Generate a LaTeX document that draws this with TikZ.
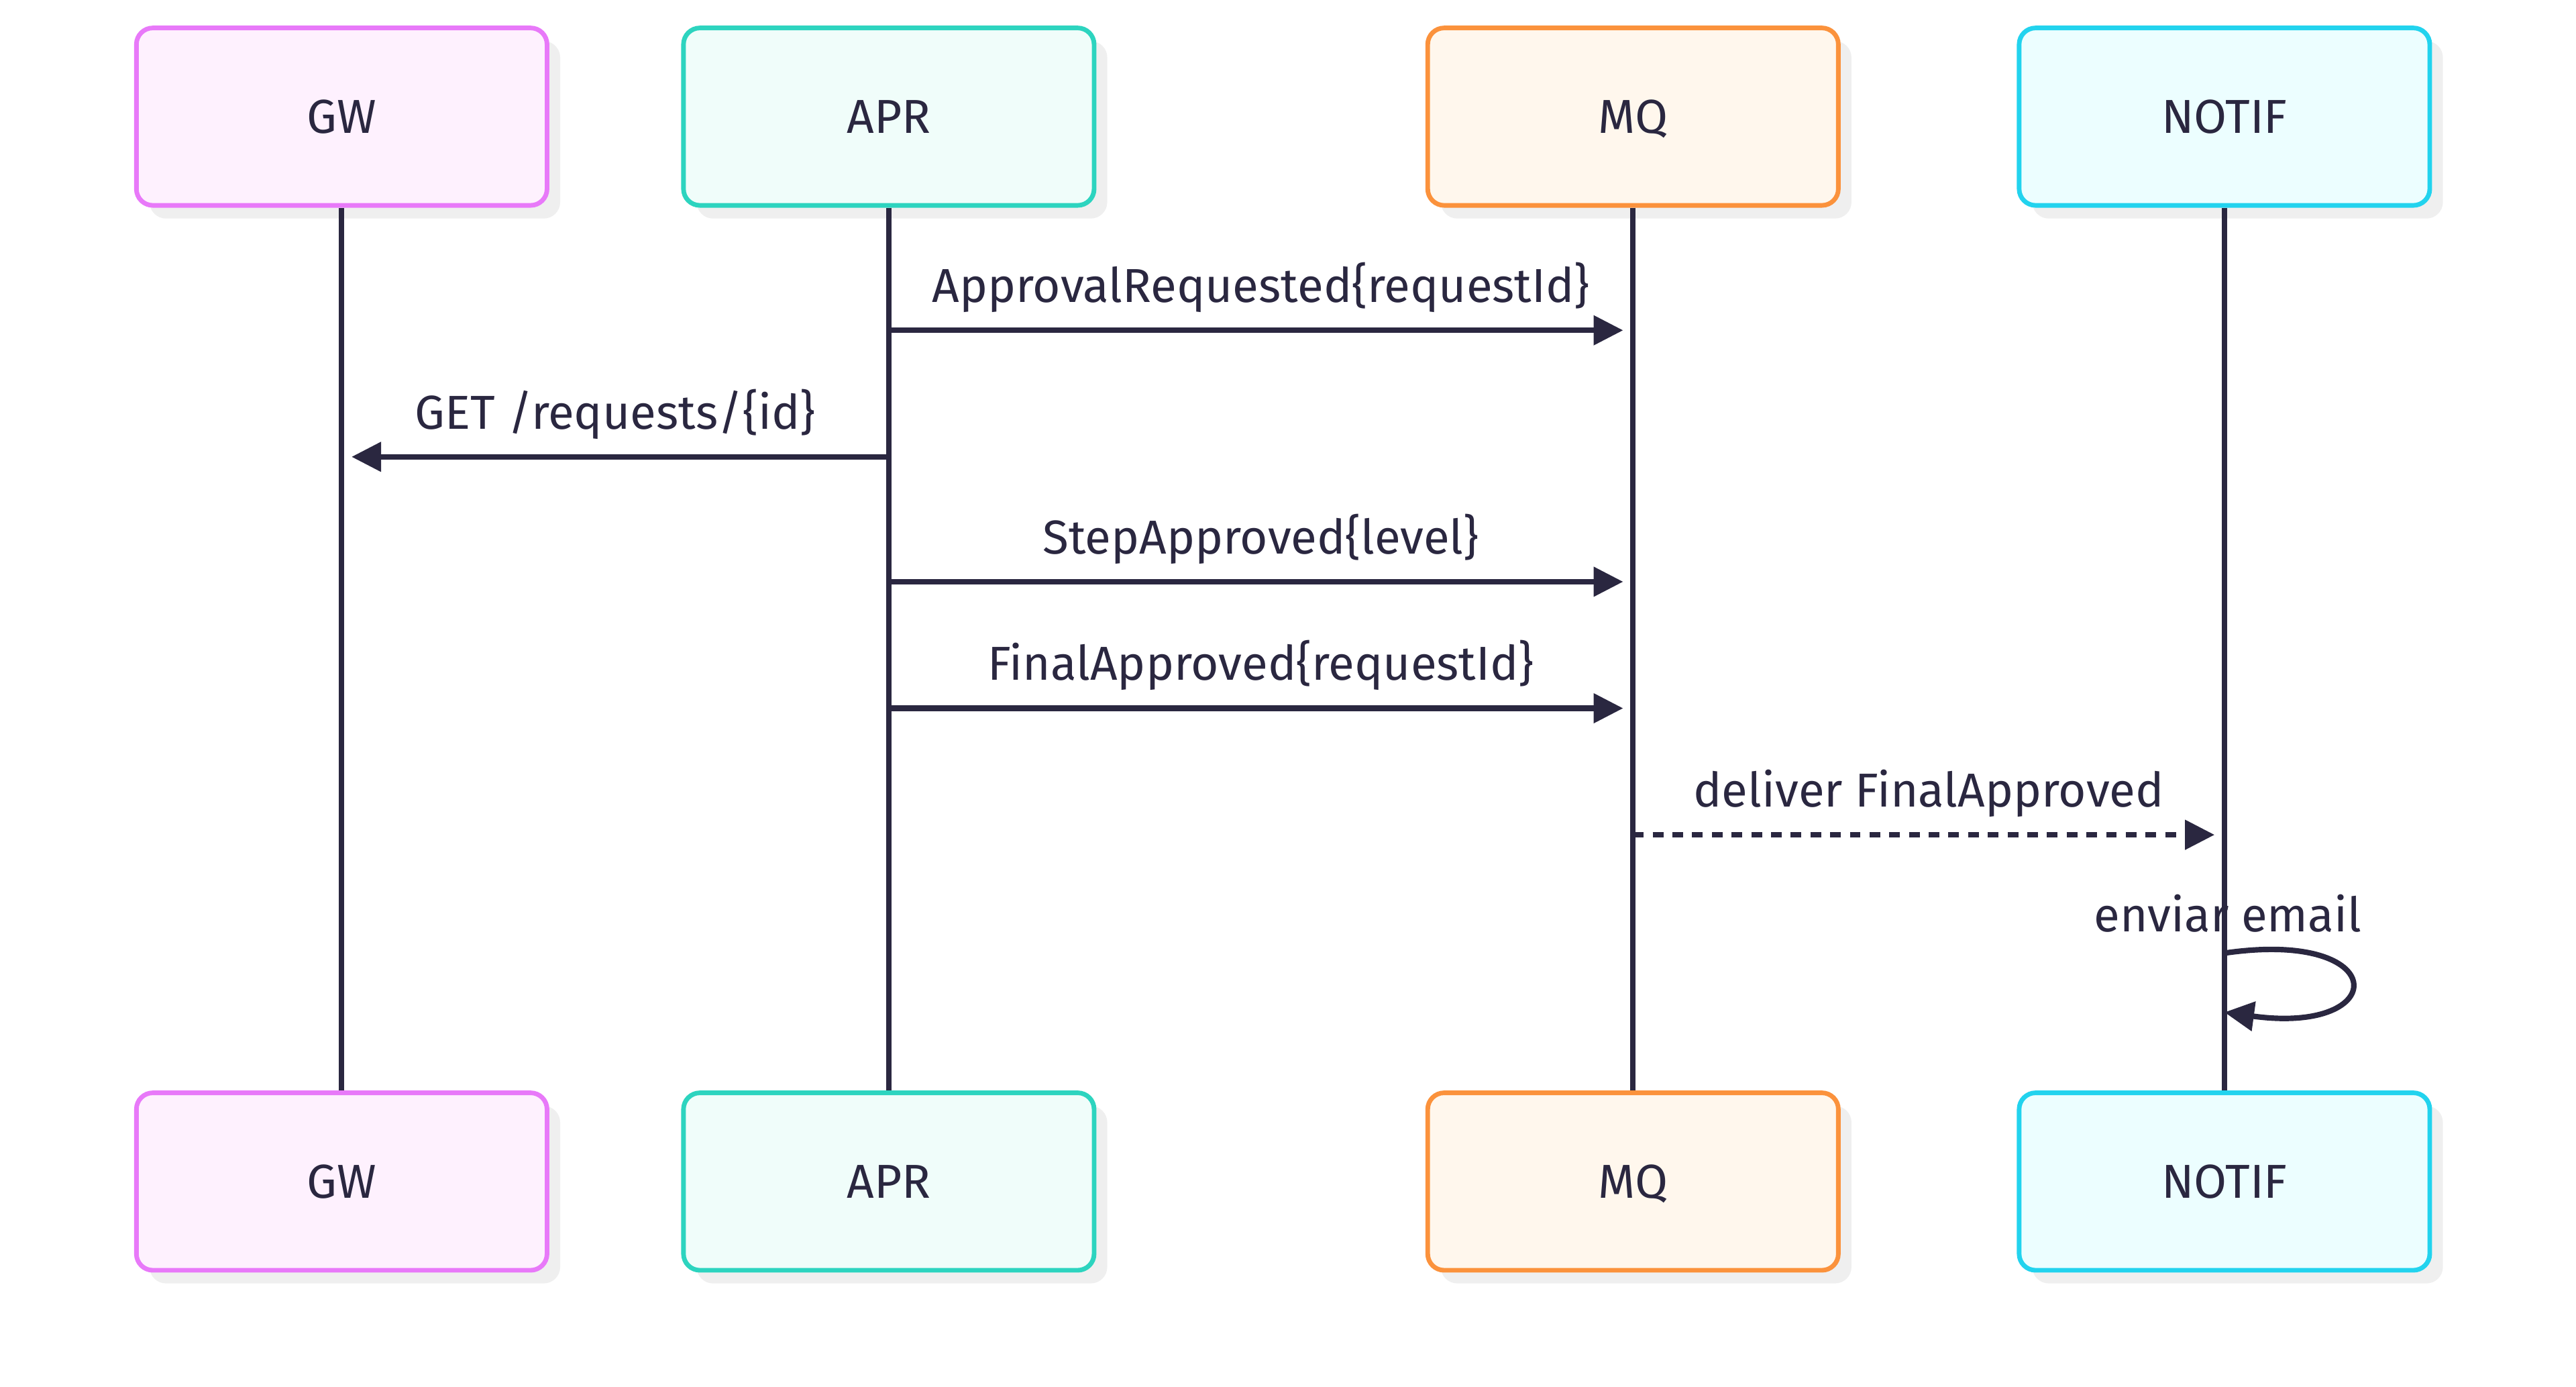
\documentclass[tikz,border=0pt]{standalone}
\usepackage{fontspec}
\setmainfont{Fira Sans}
\usetikzlibrary{arrows.meta,shadows}
\definecolor{Tinta}{HTML}{2A2740}
\definecolor{Sombra}{HTML}{EFEFEF}
\definecolor{Rosa}{HTML}{E879F9}
\definecolor{RosaClaro}{HTML}{FEF1FE}
\definecolor{Turquesa}{HTML}{2DD4BF}
\definecolor{TurquesaClaro}{HTML}{F0FDFA}
\definecolor{Naranja}{HTML}{FB923C}
\definecolor{NaranjaClaro}{HTML}{FFF7ED}
\definecolor{Cian}{HTML}{22D3EE}
\definecolor{CianClaro}{HTML}{ECFEFF}

\begin{document}
\begin{tikzpicture}[x=0.02cm,y=-0.02cm,font=\fontsize{16.5}{19}\selectfont,
  >={Triangle[length=3.6mm,width=3.5mm]},
  actor/.style 2 args={draw=#1,fill=#2,line width=1.6pt,rounded corners=0.2cm,
    minimum width=5cm,minimum height=2.16cm,text=Tinta,
    text height=11.4pt,text depth=0pt,
    drop shadow={shadow xshift=0.16cm,shadow yshift=-0.16cm,fill=Sombra,opacity=1}},
  vida/.style={draw=Tinta,line width=1.9pt},
  msg/.style={draw=Tinta,line width=1.9pt,->,shorten >=0.12cm},
  etiqueta/.style={anchor=base,yshift=0.34cm,inner sep=0pt,text=Tinta}]
  \useasboundingbox (0,0) rectangle (1568,844);

  % Participantes arriba y abajo, con su linea de vida.
  \foreach \nombre/\x/\borde/\fondo/\texto in
      {gw/208/Rosa/RosaClaro/GW, apr/541/Turquesa/TurquesaClaro/APR,
       mq/994/Naranja/NaranjaClaro/MQ, notif/1354/Cian/CianClaro/NOTIF}{
    \node[actor={\borde}{\fondo}] (\nombre Top) at (\x,71) {\texto};
    \node[actor={\borde}{\fondo}] (\nombre Bot) at (\x,719) {\texto};
    \draw[vida] (\nombre Top.south) -- (\nombre Bot.north);
  }

  % Mensajes.
  \draw[msg] (aprTop.south |- 0,201) -- node[etiqueta] {ApprovalRequested\{requestId\}}
    (mqTop.south |- 0,201);
  \draw[msg] (aprTop.south |- 0,278) -- node[etiqueta] {GET /requests/\{id\}}
    (gwTop.south |- 0,278);
  \draw[msg] (aprTop.south |- 0,354) -- node[etiqueta] {StepApproved\{level\}}
    (mqTop.south |- 0,354);
  \draw[msg] (aprTop.south |- 0,431) -- node[etiqueta] {FinalApproved\{requestId\}}
    (mqTop.south |- 0,431);
  \draw[msg,dash pattern=on 0.13cm off 0.11cm] (mqTop.south |- 0,508)
    -- node[etiqueta] {deliver FinalApproved} (notifTop.south |- 0,508);

  % Mensaje a si mismo.
  \node[anchor=base,inner sep=0pt,text=Tinta] (lblEmail) at (1356,567) {enviar email};
  \draw[msg,shorten >=0pt] (notifTop.south |- 0,580)
    .. controls (1456,565) and (1456,630) .. (notifTop.south |- 0,616);
\end{tikzpicture}
\end{document}
